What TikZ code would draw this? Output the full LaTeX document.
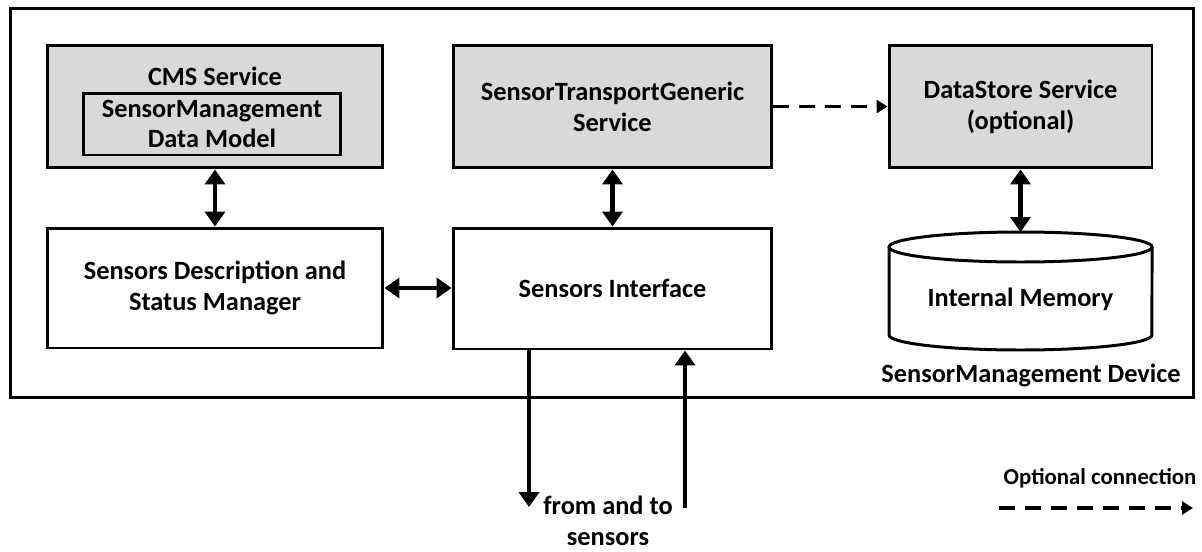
\documentclass[tikz,border=0pt]{standalone}
\usepackage{fontspec}
\setmainfont{Carlito}
\usetikzlibrary{arrows.meta}
\newcommand\headtip{Triangle[width=.4cm,length=.3cm]}

\begin{document}
\begin{tikzpicture}[x=.02cm, y=-.02cm,
        font=\fontsize{15}{17.5}\selectfont\bfseries,
        box/.style={draw, line width=1.7pt, inner sep=0pt, align=center},
        service/.style={box, fill=black!15},
        link/.style={line width=2.8pt, {\headtip}-{\headtip}},
        wire/.style={line width=2.8pt, -{\headtip}},
        optional/.style={line width=2pt, dash pattern=on .32cm off .2cm,
            -{Triangle[width=.26cm,length=.22cm]}}]
    \useasboundingbox (0,0) rectangle (1202,551);

    % Рамка устройства
    \node[box, minimum width=23.68cm, minimum height=7.8cm] (dev) at (602,203) {};
    \node (devt) at (1031,375) {SensorManagement Device};

    % Сервисы
    \node[service, minimum width=6.72cm, minimum height=2.46cm] (cms) at (215,106.5) {};
    \node (cmst) at (215,76) {CMS Service};
    \node[box, minimum width=5.16cm, minimum height=1.24cm] (dm) at (212,124)
        {SensorManagement\\Data Model};
    \node[service, minimum width=6.38cm, minimum height=2.46cm] (stg) at (612.5,106.5)
        {SensorTransportGeneric\\Service};
    \node[service, minimum width=5.26cm, minimum height=2.46cm] (ds) at (1020.5,106.5)
        {DataStore Service\\(optional)};

    % Нижний ряд
    \node[box, minimum width=6.72cm, minimum height=2.4cm] (sd) at (215,288)
        {Sensors Description and\\Status Manager};
    \node[box, minimum width=6.38cm, minimum height=2.42cm] (si) at (612.5,288.5)
        {Sensors Interface};

    % Память
    \draw[line width=1.7pt] (889,247) -- (889,335)
        arc[start angle=180, end angle=360, x radius=2.63cm, y radius=.3cm] -- (1152,247);
    \draw[line width=1.7pt] (1020.5,247) ellipse [x radius=2.63cm, y radius=.3cm];
    \node (mem) at (1020.5,299) {Internal Memory};
    \coordinate (memtop) at (1020.5,232);

    % Связи
    \draw[link] (cms) -- (sd);
    \draw[link] (stg) -- (si);
    \draw[link] (sd.east) -- (sd.east -| si.west);
    \draw[link] (ds) -- (memtop);
    \draw[optional] (stg) -- (ds);

    % К датчикам
    \coordinate (tosens) at (529,507);
    \coordinate (fromsens) at (685,508);
    \draw[wire] (si.south -| tosens) -- (tosens);
    \draw[wire] (fromsens) -- (fromsens |- si.south);
    \node[align=center] (sens) at (608,521) {from and to\\sensors};

    % Легенда
    \node[font=\fontsize{13}{15}\selectfont\bfseries] (legt) at (1100,478) {Optional connection};
    \coordinate (leg1) at (999,508);
    \coordinate (leg2) at (1193,508);
    \draw[optional] (leg1) -- (leg2);
\end{tikzpicture}
\end{document}
